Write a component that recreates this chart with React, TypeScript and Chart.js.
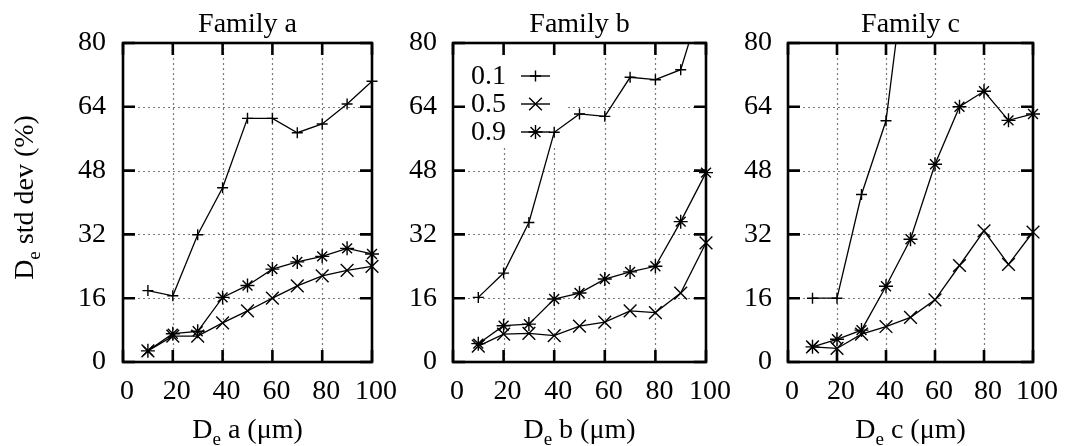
import React, { useEffect, useRef } from 'react';
import { Chart, registerables } from 'chart.js';

Chart.register(...registerables);

// Particle size classes (µm) and axis ticks
const sizes = [10, 20, 30, 40, 50, 60, 70, 80, 90, 100];
const xTicks = [0, 20, 40, 60, 80, 100];
const yTicks = [0, 16, 32, 48, 64, 80];
const quantileLabels = ['0.1', '0.5', '0.9'];

// Standard deviation (%) per quantile, family a
const familyA_q10 = [17.9, 16.6, 31.9, 43.7, 61.1, 61.1, 57.5, 59.7, 64.7, 70.4];
const familyA_q50 = [2.8, 6.5, 6.5, 9.8, 12.8, 16.0, 19.1, 21.6, 23.0, 24.0];
const familyA_q90 = [2.8, 7.1, 7.7, 16.2, 19.2, 23.3, 25.1, 26.5, 28.5, 27.1];

// family b
const familyB_q10 = [16.2, 22.3, 35.0, 57.6, 62.2, 61.6, 71.4, 70.8, 73.3, 94.0];
const familyB_q50 = [4.0, 7.0, 7.2, 6.6, 9.0, 10.0, 12.8, 12.4, 17.3, 29.9];
const familyB_q90 = [4.6, 9.1, 9.5, 15.8, 17.3, 20.8, 22.6, 24.0, 35.2, 47.5];

// family c (the 0.1 quantile leaves the plotted range after 40 µm)
const familyC_q10 = [16.0, 16.0, 42.0, 60.5, 109.0];
const familyC_q50 = [3.8, 3.4, 7.0, 8.9, 11.2, 15.6, 24.2, 32.9, 24.5, 32.6];
const familyC_q90 = [3.8, 5.7, 8.0, 19.0, 30.8, 49.6, 64.0, 67.9, 60.6, 62.2];

const W = 1067;
const H = 446;
const FONT = '"Liberation Serif", "Times New Roman", serif';
const TEXT_SIZE = 28;
const SUB_SIZE = 19;

type MarkerStyle = 'cross' | 'crossRot' | 'star';
const markerStyles: MarkerStyle[] = ['cross', 'crossRot', 'star'];
const markerRadius: Record<MarkerStyle, number> = { cross: 5.5, crossRot: 9, star: 7 };

interface PanelDef {
  title: string;
  letter: string;
  series: number[][];
  left: number;
  right: number;
  yLabelPad: number;
  showYTitle: boolean;
  showLegend: boolean;
}

const PLOT_TOP = 43;
const PLOT_BOTTOM = 362;
const Y_AXIS_W = 70;
const X_AXIS_H = H - PLOT_BOTTOM;

const panels: PanelDef[] = [
  { title: 'Family a', letter: 'a', series: [familyA_q10, familyA_q50, familyA_q90], left: 123, right: 372, yLabelPad: 17, showYTitle: true, showLegend: false },
  { title: 'Family b', letter: 'b', series: [familyB_q10, familyB_q50, familyB_q90], left: 453, right: 706, yLabelPad: 16, showYTitle: false, showLegend: true },
  { title: 'Family c', letter: 'c', series: [familyC_q10, familyC_q50, familyC_q90], left: 788, right: 1040, yLabelPad: 16, showYTitle: false, showLegend: false },
];

function drawMarker(ctx: CanvasRenderingContext2D, style: MarkerStyle, x: number, y: number) {
  const r = markerRadius[style];
  ctx.beginPath();
  if (style === 'cross' || style === 'star') {
    ctx.moveTo(x - r, y); ctx.lineTo(x + r, y);
    ctx.moveTo(x, y - r); ctx.lineTo(x, y + r);
  }
  if (style === 'crossRot' || style === 'star') {
    const d = r * Math.SQRT1_2;
    ctx.moveTo(x - d, y - d); ctx.lineTo(x + d, y + d);
    ctx.moveTo(x - d, y + d); ctx.lineTo(x + d, y - d);
  }
  ctx.stroke();
}

// Draws "D" + subscript "e" + rest, centred on cx with the given baseline
function drawSubscripted(ctx: CanvasRenderingContext2D, rest: string, cx: number, baseline: number) {
  const main = `${TEXT_SIZE}px ${FONT}`;
  const sub = `${SUB_SIZE}px ${FONT}`;
  ctx.font = main;
  const wD = ctx.measureText('D').width;
  const wRest = ctx.measureText(rest).width;
  ctx.font = sub;
  const wE = ctx.measureText('e').width;
  const total = wD + wE + wRest;
  let x = cx - total / 2;
  ctx.textAlign = 'left';
  ctx.textBaseline = 'alphabetic';
  ctx.font = main;
  ctx.fillText('D', x, baseline);
  x += wD;
  ctx.font = sub;
  ctx.fillText('e', x, baseline + 7);
  x += wE;
  ctx.font = main;
  ctx.fillText(rest, x, baseline);
}

const framePlugin = {
  id: 'frame',
  beforeDatasetsDraw(chart: any, _args: any, opts: any) {
    const { ctx, chartArea: a, scales } = chart;
    const xs = scales.x;
    const ys = scales.y;
    ctx.save();
    ctx.strokeStyle = '#7a7a7a';
    ctx.lineWidth = 1.2;
    ctx.setLineDash([2, 3]);
    xTicks.slice(1, -1).forEach((v) => {
      const px = Math.round(xs.getPixelForValue(v)) + 0.5;
      ctx.beginPath(); ctx.moveTo(px, a.top); ctx.lineTo(px, a.bottom); ctx.stroke();
    });
    yTicks.slice(1, -1).forEach((v) => {
      const py = Math.round(ys.getPixelForValue(v)) + 0.5;
      ctx.beginPath(); ctx.moveTo(a.left, py); ctx.lineTo(a.right, py); ctx.stroke();
    });
    ctx.setLineDash([]);
    if (opts.legend) {
      // key background hides the grid behind it
      ctx.fillStyle = '#ffffff';
      ctx.fillRect(a.left, a.top, 114, 104);
    }
    ctx.restore();
  },
  afterDatasetsDraw(chart: any, _args: any, opts: any) {
    const { ctx, chartArea: a, scales } = chart;
    const xs = scales.x;
    const ys = scales.y;
    ctx.save();
    ctx.strokeStyle = '#000';
    ctx.lineWidth = 2.6;
    // inward ticks on all four sides
    const tl = 12;
    ctx.beginPath();
    xTicks.forEach((v) => {
      const px = xs.getPixelForValue(v);
      ctx.moveTo(px, a.bottom); ctx.lineTo(px, a.bottom - tl);
      ctx.moveTo(px, a.top); ctx.lineTo(px, a.top + tl);
    });
    yTicks.forEach((v) => {
      const py = ys.getPixelForValue(v);
      ctx.moveTo(a.left, py); ctx.lineTo(a.left + tl, py);
      ctx.moveTo(a.right, py); ctx.lineTo(a.right - tl, py);
    });
    ctx.stroke();
    ctx.strokeRect(a.left, a.top, a.right - a.left, a.bottom - a.top);

    if (opts.legend) {
      ctx.fillStyle = '#000';
      ctx.font = `${TEXT_SIZE}px ${FONT}`;
      ctx.textAlign = 'right';
      ctx.textBaseline = 'middle';
      quantileLabels.forEach((lab, i) => {
        const cy = a.top + 33 + i * 28;
        ctx.fillText(lab, a.left + 53, cy + 1);
        ctx.lineWidth = 1.4;
        ctx.beginPath();
        ctx.moveTo(a.left + 68, cy); ctx.lineTo(a.left + 97, cy);
        ctx.stroke();
        drawMarker(ctx, markerStyles[i], a.left + 82.5, cy);
      });
    }
    ctx.restore();
  },
  afterDraw(chart: any, _args: any, opts: any) {
    const { ctx, chartArea: a } = chart;
    const cx = (a.left + a.right) / 2;
    ctx.save();
    ctx.fillStyle = '#000';
    ctx.font = `${TEXT_SIZE}px ${FONT}`;
    ctx.textAlign = 'center';
    ctx.textBaseline = 'alphabetic';
    ctx.fillText(opts.title, cx, 32);
    drawSubscripted(ctx, ` ${opts.letter} (\u03bcm)`, cx, 438);
    if (opts.yTitle) {
      ctx.save();
      ctx.translate(33, (a.top + a.bottom) / 2 - 5);
      ctx.rotate(-Math.PI / 2);
      drawSubscripted(ctx, ' std dev (%)', 0, 0);
      ctx.restore();
    }
    ctx.restore();
  },
};

function Panel({ def }: { def: PanelDef }) {
  const ref = useRef<HTMLCanvasElement>(null);
  useEffect(() => {
    const canvas = ref.current;
    if (!canvas) return;
    const datasets = def.series.map((vals, i) => ({
      label: quantileLabels[i],
      data: vals.map((v, j) => ({ x: sizes[j], y: v })),
      borderColor: '#000',
      borderWidth: 1.3,
      pointStyle: markerStyles[i],
      pointRadius: markerRadius[markerStyles[i]],
      pointBorderWidth: 1.4,
      pointBorderColor: '#000',
      pointBackgroundColor: '#000',
      tension: 0,
      clip: { left: 12, right: 12, top: 0, bottom: 12 },
    }));
    const chart = new Chart(canvas, {
      type: 'line',
      data: { datasets },
      plugins: [framePlugin],
      options: {
        animation: false,
        responsive: false,
        layout: {
          padding: {
            left: def.left - Y_AXIS_W,
            right: W - def.right,
            top: PLOT_TOP,
            bottom: 0,
          },
        },
        plugins: {
          legend: { display: false },
          tooltip: { enabled: false },
          frame: { title: def.title, letter: def.letter, yTitle: def.showYTitle, legend: def.showLegend },
        } as any,
        scales: {
          x: {
            type: 'linear',
            min: 0,
            max: 100,
            grid: { display: false, drawTicks: false },
            border: { display: false },
            ticks: {
              stepSize: 20,
              autoSkip: false,
              maxRotation: 0,
              padding: 13,
              labelOffset: 4,
              color: '#000',
              font: { family: FONT, size: TEXT_SIZE },
            },
            afterFit: (s: any) => { s.height = X_AXIS_H; },
          },
          y: {
            type: 'linear',
            min: 0,
            max: 80,
            grid: { display: false, drawTicks: false },
            border: { display: false },
            ticks: {
              stepSize: 16,
              autoSkip: false,
              padding: def.yLabelPad,
              color: '#000',
              font: { family: FONT, size: TEXT_SIZE },
            },
            afterFit: (s: any) => { s.width = Y_AXIS_W; },
          },
        },
      } as any,
    });
    // redraw once the serif face is ready so every label uses it
    if (document.fonts && document.fonts.load) {
      document.fonts.load(`${TEXT_SIZE}px "Liberation Serif"`).then(() => chart.update()).catch(() => {});
    }
    return () => chart.destroy();
  }, [def]);
  return (
    <canvas
      ref={ref}
      width={W}
      height={H}
      style={{ position: 'absolute', left: 0, top: 0, width: W, height: H }}
    />
  );
}

export default function App() {
  useEffect(() => {
    document.body.style.margin = '0';
  }, []);
  return (
    <div style={{ position: 'relative', width: W, height: H, background: '#fff', overflow: 'hidden' }}>
      {panels.map((p) => (
        <Panel key={p.title} def={p} />
      ))}
    </div>
  );
}
